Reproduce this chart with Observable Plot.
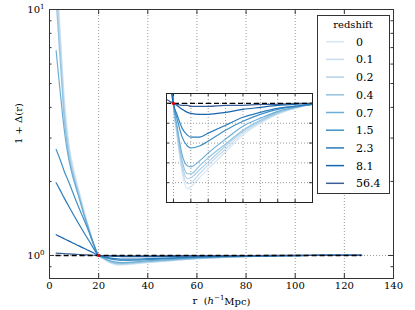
<!DOCTYPE html>
<html><head><meta charset="utf-8">
<script src="https://cdn.jsdelivr.net/npm/d3@7"></script>
<script src="https://cdn.jsdelivr.net/npm/@observablehq/plot@0.6"></script>
<style>
body{margin:0;background:#fff;}
#wrap{position:relative;width:415px;height:310px;font-family:"DejaVu Serif",serif;}
</style></head><body><div id="wrap"></div>
<script>
// ---- data ----
const r = [2.7, 4, 5, 6, 7, 8, 10, 12, 14, 16, 18, 20, 22, 25, 28, 30, 35, 40, 50, 60, 70, 80, 90, 100, 110, 120, 127];
const z_0    = [15.5, 9.4, 6.3, 4.4, 3.4, 2.8, 2.2, 1.83, 1.53, 1.30, 1.11, 1.0, 0.968, 0.930, 0.914, 0.916, 0.925, 0.934, 0.951, 0.968, 0.980, 0.989, 0.995, 0.999, 1.0, 1.0, 1.0];
const z_0_1  = [14, 8.6, 5.8, 4.1, 3.25, 2.7, 2.15, 1.8, 1.51, 1.29, 1.11, 1.0, 0.970, 0.934, 0.919, 0.920, 0.929, 0.938, 0.954, 0.970, 0.981, 0.990, 0.995, 0.999, 1.0, 1.0, 1.0];
const z_0_2  = [12.5, 7.8, 5.4, 3.85, 3.1, 2.6, 2.1, 1.77, 1.49, 1.28, 1.10, 1.0, 0.972, 0.938, 0.924, 0.925, 0.933, 0.941, 0.957, 0.972, 0.982, 0.990, 0.996, 0.999, 1.0, 1.0, 1.0];
const z_0_4  = [11, 7.0, 5.0, 3.6, 2.95, 2.5, 2.05, 1.74, 1.47, 1.27, 1.10, 1.0, 0.974, 0.942, 0.929, 0.929, 0.937, 0.945, 0.959, 0.973, 0.983, 0.991, 0.996, 0.999, 1.0, 1.0, 1.0];
const z_0_7  = [6.8, 5.0, 4.0, 3.25, 2.75, 2.42, 2.0, 1.72, 1.47, 1.28, 1.11, 1.0, 0.978, 0.948, 0.937, 0.936, 0.942, 0.950, 0.964, 0.977, 0.985, 0.992, 0.996, 0.999, 1.0, 1.0, 1.0];
const z_1_5  = [2.7, 2.5, 2.35, 2.2, 2.08, 1.97, 1.75, 1.56, 1.40, 1.25, 1.11, 1.0, 0.985, 0.966, 0.957, 0.955, 0.957, 0.962, 0.973, 0.982, 0.989, 0.994, 0.997, 0.999, 1.0, 1.0, 1.0];
const z_2_3  = [1.975, 1.87, 1.79, 1.71, 1.64, 1.575, 1.45, 1.34, 1.24, 1.15, 1.065, 1.0, 0.989, 0.975, 0.968, 0.966, 0.966, 0.970, 0.978, 0.986, 0.991, 0.995, 0.997, 0.999, 1.0, 1.0, 1.0];
const z_8_1  = [1.214, 1.196, 1.183, 1.17, 1.156, 1.144, 1.118, 1.094, 1.069, 1.046, 1.023, 1.0, 0.998, 0.994, 0.991, 0.990, 0.989, 0.989, 0.991, 0.994, 0.996, 0.998, 0.999, 1.0, 1.0, 1.0, 1.0];
const z_56_4 = [1.022, 1.02, 1.019, 1.017, 1.016, 1.015, 1.012, 1.009, 1.006, 1.004, 1.002, 1.0, 0.999, 0.998, 0.998, 0.997, 0.997, 0.997, 0.998, 0.998, 0.999, 0.999, 1.0, 1.0, 1.0, 1.0, 1.0];
const redshifts = ["0", "0.1", "0.2", "0.4", "0.7", "1.5", "2.3", "8.1", "56.4"];
const lineColors = ["#d6e6f4", "#c6dbef", "#b2d2e8", "#94c4df", "#6aaed6", "#4191c6", "#2b7bba", "#1764ab", "#3a5f98"];
const xTicks = [0, 20, 40, 60, 80, 100, 120, 140];
const yMajorTicks = [1, 10];
const yMinorTicks = [0.9, 2, 3, 4, 5, 6, 7, 8, 9];
const insetXTicks = [20, 30, 40, 50, 60, 70, 80, 90];
const insetYTicks = [0.92, 0.94, 0.96, 0.98, 1.0];
const crossing = [{r: 20, v: 1.0}];
const reference = [1];

const series = [z_0, z_0_1, z_0_2, z_0_4, z_0_7, z_1_5, z_2_3, z_8_1, z_56_4];
const pts = series.map(s => r.map((rv, j) => [rv, s[j]]));

// ---- main ----
const W = 415, H = 310, mL = 49, mR = 22, mT = 9, mB = 32;
const iw = W - mL - mR, ih = H - mT - mB;
const grid = {stroke: "#9a9a9a", strokeDasharray: "1,2", strokeWidth: 1};
const axc = "#333";

const main = Plot.plot({
  width: W, height: H, marginLeft: mL, marginRight: mR, marginTop: mT, marginBottom: mB,
  style: {fontFamily: '"DejaVu Serif", serif', fontSize: "10px", background: "transparent", color: "#000", overflow: "visible"},
  x: {domain: [0, 140], ticks: xTicks, tickSize: 0, tickPadding: 3, label: null},
  y: {type: "log", domain: [0.806, 10], ticks: yMajorTicks, tickSize: 0, tickPadding: 5,
      tickFormat: d => "10^" + Math.round(Math.log10(d)), label: null},
  marks: [
    Plot.ruleX(xTicks.slice(1, -1), grid),
    Plot.ruleY(reference, grid),
    ...pts.map((p, i) => Plot.line(p, {stroke: lineColors[i], strokeWidth: 1.2, curve: "monotone-x", clip: true})),
    Plot.ruleY(reference, {x1: r[0], x2: r[r.length - 1], stroke: "#000", strokeWidth: 1.4, strokeDasharray: "5,3"}),
    Plot.dot(crossing, {x: "r", y: "v", r: 1.6, fill: "#e00000", stroke: "none"}),
    Plot.tickX(xTicks, {x: d => d, insetTop: ih - 5, stroke: axc}),
    Plot.tickX(xTicks, {x: d => d, insetBottom: ih - 5, stroke: axc}),
    Plot.tickY(yMajorTicks, {y: d => d, insetRight: iw - 5, stroke: axc}),
    Plot.tickY(yMajorTicks, {y: d => d, insetLeft: iw - 5, stroke: axc}),
    Plot.tickY(yMinorTicks, {y: d => d, insetRight: iw - 2.5, stroke: axc}),
    Plot.tickY(yMinorTicks, {y: d => d, insetLeft: iw - 2.5, stroke: axc}),
    Plot.frame({stroke: axc}),
    Plot.text(["1 + Δ(r)"], {text: d => d, frameAnchor: "left", rotate: -90, dx: -31, fontSize: 10}),
    Plot.text(["XLABEL"], {text: d => d, frameAnchor: "bottom", dy: 25, fontSize: 10})
  ]
});
main.style.position = "absolute"; main.style.left = "0px"; main.style.top = "0px";

d3.select(main).selectAll("text").each(function () {
  const t = this.textContent;
  const sel = d3.select(this);
  const m = /^10\^(\d)$/.exec(t);
  if (m) {
    sel.text(null);
    sel.append("tspan").text("10");
    sel.append("tspan").attr("dy", "-0.5em").attr("font-size", "7px").text(m[1]);
  } else if (t === "XLABEL") {
    sel.text(null);
    sel.append("tspan").text("r  (");
    sel.append("tspan").attr("font-style", "italic").text("h");
    sel.append("tspan").attr("dy", "-0.5em").attr("font-size", "7px").text("−1");
    sel.append("tspan").attr("dy", "0.5em").text("Mpc)");
  }
});

// ---- inset ----
const IW = 148, IH = 111;
const inset = Plot.plot({
  width: IW, height: IH, margin: 1,
  style: {background: "transparent", overflow: "visible"},
  x: {domain: [16, 100], axis: null},
  y: {domain: [0.9, 1.01], axis: null},
  marks: [
    Plot.frame({fill: "white", stroke: "none"}),
    Plot.ruleX(insetXTicks, grid),
    Plot.ruleY(insetYTicks, grid),
    ...pts.map((p, i) => Plot.line(p, {stroke: lineColors[i], strokeWidth: 1.2, curve: "monotone-x", clip: true})),
    Plot.ruleY(reference, {stroke: "#000", strokeWidth: 1.4, strokeDasharray: "5,3"}),
    Plot.dot(crossing, {x: "r", y: "v", r: 1.6, fill: "#e00000", stroke: "none"}),
    Plot.tickX(insetXTicks, {x: d => d, insetTop: IH - 2 - 3, stroke: axc}),
    Plot.tickX(insetXTicks, {x: d => d, insetBottom: IH - 2 - 3, stroke: axc}),
    Plot.tickY(insetYTicks, {y: d => d, insetRight: IW - 2 - 3, stroke: axc}),
    Plot.tickY(insetYTicks, {y: d => d, insetLeft: IW - 2 - 3, stroke: axc}),
    Plot.frame({stroke: "#222"})
  ]
});
inset.style.position = "absolute"; inset.style.left = "164.5px"; inset.style.top = "91.5px";

// ---- legend ----
const LW = 73, LH = 179;
const leg = d3.create("svg").attr("width", LW).attr("height", LH)
  .style("position", "absolute").style("left", "317px").style("top", "15px").style("overflow", "visible");
leg.append("rect").attr("x", 0.5).attr("y", 0.5).attr("width", LW - 1).attr("height", LH - 1)
  .attr("fill", "#fff").attr("stroke", axc);
leg.append("text").attr("x", 36).attr("y", 12.5).attr("text-anchor", "middle")
  .attr("font-family", '"DejaVu Serif", serif').attr("font-size", 10).text("redshift");
redshifts.forEach((z, i) => {
  const cy = 26.7 + 17.7 * i;
  leg.append("line").attr("x1", 9).attr("x2", 27).attr("y1", cy).attr("y2", cy)
    .attr("stroke", lineColors[i]).attr("stroke-width", 1.5);
  leg.append("text").attr("x", 39).attr("y", cy + 4).attr("font-family", '"DejaVu Serif", serif')
    .attr("font-size", 11).text(z);
});

const wrap = document.getElementById("wrap");
wrap.appendChild(main);
wrap.appendChild(inset);
wrap.appendChild(leg.node());
</script></body></html>
